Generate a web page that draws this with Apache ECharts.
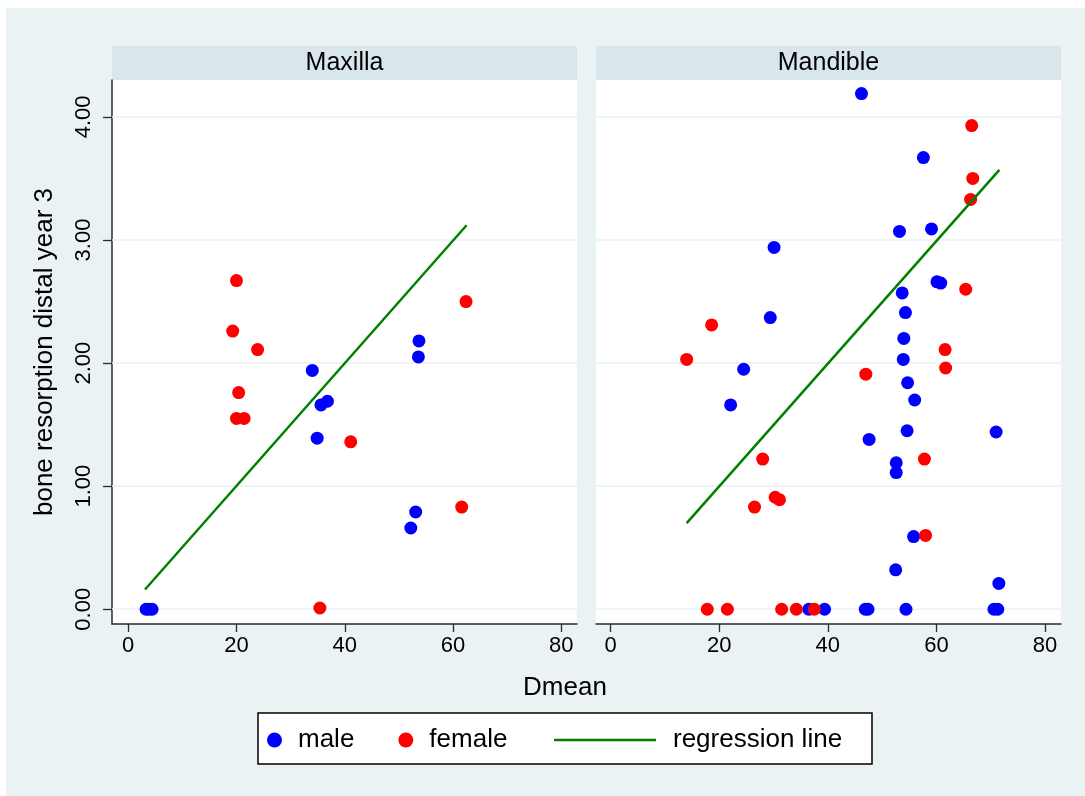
<!DOCTYPE html>
<html>
<head>
<meta charset="utf-8">
<title>bone resorption distal year 3 by Dmean</title>
<script src="https://cdn.jsdelivr.net/npm/echarts@6/dist/echarts.min.js"></script>
<style>
  html, body { margin: 0; padding: 0; background: #fff; }
  #chart { width: 1085px; height: 796px; }
</style>
</head>
<body>
<div id="chart"></div>
<script>
// Maxilla panel
const maxMaleX = [53.7, 53.6, 34.0, 35.6, 36.8, 34.9, 53.1, 52.2, 3.3, 3.8, 4.4];
const maxMaleY = [2.18, 2.05, 1.94, 1.66, 1.69, 1.39, 0.79, 0.66, 0, 0, 0];
const maxFemaleX = [20.0, 19.3, 23.9, 20.4, 20.0, 21.4, 41.1, 62.4, 61.6, 35.4];
const maxFemaleY = [2.67, 2.26, 2.11, 1.76, 1.55, 1.55, 1.36, 2.50, 0.83, 0.01];
const maxFitX = [3.1, 62.5];
const maxFitY = [0.16, 3.12];

// Mandible panel
const manMaleX = [46.2, 57.6, 53.2, 59.1, 30.1, 60.1, 60.8, 53.7, 54.3, 29.4, 54.0, 53.9, 24.5,
  54.7, 56.0, 22.1, 54.6, 71.0, 47.6, 52.6, 52.6, 55.8, 52.5, 71.5,
  36.5, 39.4, 46.9, 47.4, 54.4, 70.6, 71.3];
const manMaleY = [4.19, 3.67, 3.07, 3.09, 2.94, 2.66, 2.65, 2.57, 2.41, 2.37, 2.20, 2.03, 1.95,
  1.84, 1.70, 1.66, 1.45, 1.44, 1.38, 1.19, 1.11, 0.59, 0.32, 0.21,
  0, 0, 0, 0, 0, 0, 0];
const manFemaleX = [66.5, 66.7, 66.3, 65.4, 18.6, 61.6, 14.0, 61.7, 47.0, 28.0, 57.8, 30.3, 31.1,
  26.5, 58.0, 17.8, 21.5, 31.5, 34.2, 37.5];
const manFemaleY = [3.93, 3.50, 3.33, 2.60, 2.31, 2.11, 2.03, 1.96, 1.91, 1.22, 1.22, 0.91, 0.89,
  0.83, 0.60, 0, 0, 0, 0, 0];
const manFitX = [14.0, 71.6];
const manFitY = [0.70, 3.57];

const yTicks = [0, 1, 2, 3, 4];
const xTicks = [0, 20, 40, 60, 80];
const panelNames = ['Maxilla', 'Mandible'];

const FONT = '"Liberation Sans", Arial, Helvetica, sans-serif';
const AXIS_COLOR = '#2b2b2b';
const GRID_COLOR = '#eaf2f3';

const zip = (xs, ys) => xs.map((x, i) => [x, ys[i]]);

const panelLeft = [112, 596];
const panelWidth = 465;
const plotTop = 80;
const plotHeight = 544;
const xRange = [[-3, 82.9], [-2.7, 82.95]];

let myChart = echarts.init(document.getElementById('chart'), null, { renderer: 'canvas' });

const grids = panelLeft.map(l => ({
  left: l, top: plotTop, width: panelWidth, height: plotHeight,
  show: true, backgroundColor: '#fff', borderWidth: 0,
}));

const xAxes = [0, 1].map(i => ({
  gridIndex: i,
  type: 'value',
  min: xRange[i][0],
  max: xRange[i][1],
  axisLine: { show: true, onZero: false, lineStyle: { color: AXIS_COLOR, width: 1.5 } },
  axisTick: { show: true, length: 8, customValues: xTicks, lineStyle: { color: AXIS_COLOR, width: 1.3 } },
  axisLabel: { customValues: xTicks, fontSize: 22, color: '#000', fontFamily: FONT, margin: 11 },
  splitLine: { show: false },
}));

const yAxes = [0, 1].map(i => ({
  gridIndex: i,
  type: 'value',
  min: -0.12,
  max: 4.3,
  name: i === 0 ? 'bone resorption distal year 3' : '',
  nameLocation: 'middle',
  nameRotate: 90,
  nameGap: 54,
  nameTextStyle: { fontSize: 26, color: '#000', fontFamily: FONT },
  axisLine: { show: i === 0, onZero: false, lineStyle: { color: AXIS_COLOR, width: 1.5 } },
  axisTick: { show: i === 0, length: 9, customValues: yTicks, lineStyle: { color: AXIS_COLOR, width: 1.3 } },
  axisLabel: {
    show: i === 0, customValues: yTicks, rotate: 90, margin: 17,
    fontSize: 22, color: '#000', fontFamily: FONT,
    formatter: v => v.toFixed(2),
  },
  splitLine: { show: false },
}));

const gridLines = {
  silent: true,
  z: 1,
  symbol: ['none', 'none'],
  label: { show: false },
  lineStyle: { color: GRID_COLOR, width: 1.6, type: 'solid' },
  emphasis: { disabled: true },
  animation: false,
  data: yTicks.map(v => ({ yAxis: v })),
};

const panels = [
  { male: zip(maxMaleX, maxMaleY), female: zip(maxFemaleX, maxFemaleY), fit: zip(maxFitX, maxFitY) },
  { male: zip(manMaleX, manMaleY), female: zip(manFemaleX, manFemaleY), fit: zip(manFitX, manFitY) },
];

const series = [];
panels.forEach((p, i) => {
  series.push({
    name: 'male', type: 'scatter', xAxisIndex: i, yAxisIndex: i, z: 3,
    symbol: 'circle', symbolSize: 13, itemStyle: { color: '#0000ff', opacity: 1 },
    data: p.male, markLine: gridLines,
  });
  series.push({
    name: 'female', type: 'scatter', xAxisIndex: i, yAxisIndex: i, z: 4,
    symbol: 'circle', symbolSize: 13, itemStyle: { color: '#ff0000', opacity: 1 },
    data: p.female,
  });
  series.push({
    name: 'regression line', type: 'line', xAxisIndex: i, yAxisIndex: i, z: 5,
    showSymbol: false, symbol: 'none', color: '#008000',
    lineStyle: { color: '#008000', width: 2.5 },
    data: p.fit,
  });
});

const graphics = [
  // white outer margin, the rest is the bluish graph region
  { type: 'rect', shape: { x: 0, y: 0, width: 1085, height: 8 }, style: { fill: '#fff' }, silent: true },
  { type: 'rect', shape: { x: 0, y: 0, width: 6, height: 796 }, style: { fill: '#fff' }, silent: true },
  // legend frame
  { type: 'rect', shape: { x: 258, y: 713, width: 614, height: 51 },
    style: { fill: '#fff', stroke: '#000', lineWidth: 1.5 }, silent: true },
  // x title shared by both panels
  { type: 'text', x: 565, y: 688,
    style: { text: 'Dmean', fontSize: 26, fontFamily: FONT, fill: '#000', align: 'center', verticalAlign: 'middle' } },
];
panelNames.forEach((n, i) => {
  graphics.push({ type: 'rect', shape: { x: panelLeft[i], y: 46, width: panelWidth, height: 34 },
    style: { fill: '#d9e6eb' }, silent: true });
  graphics.push({ type: 'text', x: panelLeft[i] + panelWidth / 2, y: 63,
    style: { text: n, fontSize: 25, fontFamily: FONT, fill: '#000', align: 'center', verticalAlign: 'middle' } });
});

const legendText = { fontSize: 26, color: '#000', fontFamily: FONT, lineHeight: 30 };

let option = {
  animation: false,
  backgroundColor: '#eaf2f3',
  grid: grids,
  xAxis: xAxes,
  yAxis: yAxes,
  legend: [
    {
      data: ['male', 'female'], left: 267, top: 725, padding: 0,
      icon: 'circle', itemWidth: 15, itemHeight: 15, itemGap: 44,
      selectedMode: false,
      itemStyle: { opacity: 1 },
      textStyle: Object.assign({ padding: [0, 0, 0, 11] }, legendText),
    },
    {
      data: ['regression line'], left: 554, top: 725, padding: 0,
      icon: 'rect', itemWidth: 102, itemHeight: 2.5,
      selectedMode: false,
      itemStyle: { color: '#008000' },
      textStyle: Object.assign({ padding: [0, 0, 0, 12] }, legendText),
    },
  ],
  graphic: graphics,
  series: series,
};

option && myChart.setOption(option);
</script>
</body>
</html>
